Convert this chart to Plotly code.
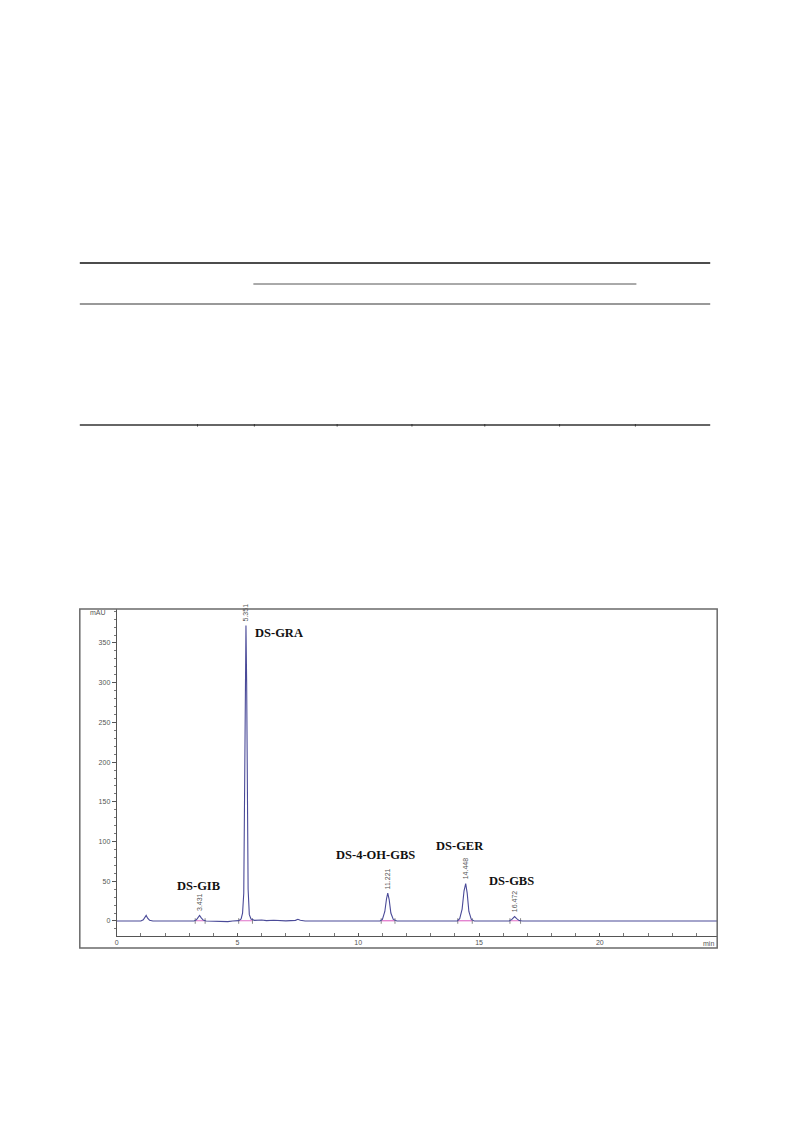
import plotly.graph_objects as go

# Chromatogram trace: retention time (min) vs detector signal (mAU)
time_min = [0.0, 1.0, 1.1, 1.16, 1.22, 1.28, 1.36, 1.5, 2.5, 3.2, 3.3, 3.37, 3.431,
            3.5, 3.58, 3.7, 4.2, 4.6, 4.8, 5.05, 5.15, 5.21, 5.26, 5.29, 5.32,
            5.351, 5.38, 5.41, 5.44, 5.49, 5.56, 5.7, 6.0, 6.2, 6.5, 7.0, 7.4,
            7.5, 7.6, 7.8, 10.9, 11.0, 11.1, 11.17, 11.221, 11.28, 11.35, 11.45,
            11.6, 14.1, 14.2, 14.3, 14.38, 14.448, 14.51, 14.58, 14.68, 14.8,
            16.25, 16.36, 16.472, 16.56, 16.66, 16.8, 24.9]
signal_mau = [0.0, 0.0, 1.5, 5.0, 7.0, 3.5, 1.0, 0.0, 0.0, 0.0, 1.5, 4.5, 7.0,
              4.0, 1.2, 0.0, -0.5, -0.8, 0.0, 0.5, 2.5, 10.0, 35.0, 150.0, 300.0,
              372.0, 300.0, 150.0, 40.0, 8.0, 2.5, 0.8, 1.2, 0.4, 1.0, 0.2, 0.8,
              2.2, 1.0, 0.0, 0.0, 2.0, 12.0, 28.0, 35.0, 27.0, 10.0, 2.0,
              0.0, 0.0, 3.0, 15.0, 38.0, 47.0, 35.0, 12.0, 2.0, 0.0,
              0.0, 2.0, 5.5, 3.0, 0.5, 0.0, 0.0]

# Integrated peaks
peak_rt = [3.431, 5.351, 11.221, 14.448, 16.472]
peak_height = [7.0, 372.0, 35.0, 47.0, 5.5]
int_start = [3.25, 5.05, 10.95, 14.12, 16.28]
int_end = [3.66, 5.62, 11.52, 14.72, 16.72]

# Compound names and label anchor points (min, mAU)
compound_names = ["DS-GIB", "DS-GRA", "DS-4-OH-GBS", "DS-GER", "DS-GBS"]
name_x = [2.58, 5.79, 9.15, 13.3, 15.48]
name_y = [44.0, 362.0, 83.0, 95.0, 50.0]

W, H = 793, 1123


def px(x):
    return x / W


def py(y):
    return 1 - y / H


fig = go.Figure()

# integration baselines under each peak
bx, by = [], []
for s, e in zip(int_start, int_end):
    bx += [s, e, None]
    by += [0.3, 0.3, None]
fig.add_trace(go.Scatter(x=bx, y=by, mode="lines",
                         line=dict(color="#e070c8", width=1.2),
                         hoverinfo="skip", showlegend=False))
fig.add_trace(go.Scatter(x=int_start + int_end, y=[0.0] * (len(int_start) * 2),
                         mode="markers",
                         marker=dict(symbol="line-ns", size=4,
                                     line=dict(color="#888888", width=1)),
                         hoverinfo="skip", showlegend=False))

fig.add_trace(go.Scatter(x=time_min, y=signal_mau, mode="lines",
                         line=dict(color="#4a4a98", width=1.1),
                         showlegend=False))

# retention time labels above apexes
for rt, h in zip(peak_rt, peak_height):
    fig.add_annotation(x=rt, y=h, text=f"{rt:.3f}", showarrow=False,
                       textangle=-90, xanchor="center", yanchor="bottom",
                       yshift=2, font=dict(family="Liberation Sans", size=7,
                                           color="#555555"))

# compound names
for name, x, y in zip(compound_names, name_x, name_y):
    fig.add_annotation(x=x, y=y, text=f"<b>{name}</b>", showarrow=False,
                       xanchor="left", yanchor="middle", xshift=-4,
                       font=dict(family="Liberation Serif", size=12.5,
                                 color="#111111"))

# axis unit labels
fig.add_annotation(x=px(96), y=py(612), xref="paper", yref="paper", text="mAU",
                   showarrow=False, xanchor="center", yanchor="middle",
                   font=dict(family="Liberation Sans", size=7, color="#555555"))
fig.add_annotation(x=px(716), y=py(943), xref="paper", yref="paper", text="min",
                   showarrow=False, xanchor="right", yanchor="middle",
                   font=dict(family="Liberation Sans", size=7, color="#555555"))

tick_font = dict(family="Liberation Sans", size=7, color="#555555")

fig.update_xaxes(domain=[px(115), px(717)], range=[0, 24.86],
                 showline=True, linecolor="#555555", linewidth=1,
                 ticks="inside", ticklen=3, tickcolor="#555555",
                 tick0=0, dtick=5, tickfont=tick_font,
                 minor=dict(dtick=1, ticks="inside", ticklen=3,
                            tickcolor="#777777"),
                 showgrid=False, zeroline=False)
fig.update_yaxes(domain=[py(936), py(609)], range=[-18.9, 392.8],
                 showline=True, linecolor="#555555", linewidth=1,
                 ticks="outside", ticklen=4, tickcolor="#555555",
                 tick0=0, dtick=50, tickfont=tick_font,
                 minor=dict(dtick=10, ticks="outside", ticklen=2,
                            tickcolor="#777777"),
                 showgrid=False, zeroline=False)

shapes = []
# chart frame
shapes.append(dict(type="rect", xref="paper", yref="paper",
                   x0=px(78), x1=px(717), y0=py(948), y1=py(609),
                   line=dict(color="#6a6a6a", width=1.5)))
# table rules above the chart
shapes.append(dict(type="line", xref="paper", yref="paper",
                   x0=px(78), x1=px(710), y0=py(263), y1=py(263),
                   line=dict(color="#111111", width=1.6)))
shapes.append(dict(type="line", xref="paper", yref="paper",
                   x0=px(252), x1=px(636), y0=py(284), y1=py(284),
                   line=dict(color="#555555", width=1)))
shapes.append(dict(type="line", xref="paper", yref="paper",
                   x0=px(78), x1=px(710), y0=py(304), y1=py(304),
                   line=dict(color="#777777", width=1.5)))
shapes.append(dict(type="line", xref="paper", yref="paper",
                   x0=px(78), x1=px(710), y0=py(425), y1=py(425),
                   line=dict(color="#333333", width=1.6)))
for cx in [196, 253, 336, 411, 484, 559, 635]:
    shapes.append(dict(type="line", xref="paper", yref="paper",
                       x0=px(cx), x1=px(cx), y0=py(424), y1=py(426.5),
                       line=dict(color="#333333", width=1)))

fig.update_layout(width=W, height=H, margin=dict(l=0, r=0, t=0, b=0),
                  paper_bgcolor="white", plot_bgcolor="white",
                  shapes=shapes, showlegend=False)

fig.write_html("out.html")
